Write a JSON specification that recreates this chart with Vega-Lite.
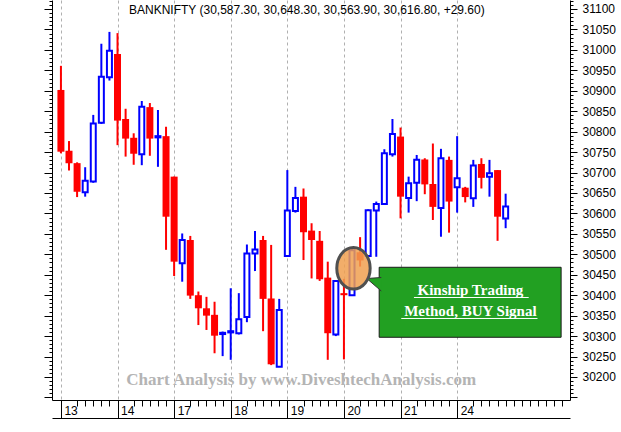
{
  "$schema": "https://vega.github.io/schema/vega-lite/v6.json",
  "width": 518,
  "height": 400,
  "autosize": {"type": "none"},
  "padding": {"left": 52, "top": 0, "right": 51, "bottom": 32},
  "background": "white",
  "config": {"view": {"stroke": null}, "font": "Liberation Sans"},
  "title": {
    "text": "BANKNIFTY (30,587.30, 30,648.30, 30,563.90, 30,616.80, +29.60)",
    "anchor": "start", "frame": "group", "orient": "top", "offset": -15, "dx": 77, "dy": 16,
    "font": "Liberation Sans", "fontSize": 12, "fontWeight": "normal", "color": "#000000", "baseline": "alphabetic"
  },
  "datasets": {
    "candles": [
      {"i":0,"day":"13","open":30902,"high":30961,"low":30747,"close":30751},
      {"i":1,"day":"13","open":30753,"high":30777,"low":30705,"close":30723},
      {"i":2,"day":"13","open":30723,"high":30725,"low":30640,"close":30653},
      {"i":3,"day":"13","open":30652,"high":30713,"low":30641,"close":30680},
      {"i":4,"day":"13","open":30678,"high":30841,"low":30675,"close":30820},
      {"i":5,"day":"13","open":30822,"high":31015,"low":30819,"close":30934},
      {"i":6,"day":"13","open":30933,"high":31044,"low":30925,"close":30998},
      {"i":7,"day":"14","open":30990,"high":31041,"low":30767,"close":30827},
      {"i":8,"day":"14","open":30831,"high":30856,"low":30739,"close":30783},
      {"i":9,"day":"14","open":30785,"high":30796,"low":30719,"close":30746},
      {"i":10,"day":"14","open":30745,"high":30875,"low":30718,"close":30861},
      {"i":11,"day":"14","open":30860,"high":30870,"low":30741,"close":30783},
      {"i":12,"day":"14","open":30786,"high":30853,"low":30714,"close":30789},
      {"i":13,"day":"14","open":30789,"high":30812,"low":30511,"close":30592},
      {"i":14,"day":"17","open":30690,"high":30690,"low":30447,"close":30482},
      {"i":15,"day":"17","open":30478,"high":30551,"low":30433,"close":30535},
      {"i":16,"day":"17","open":30535,"high":30545,"low":30391,"close":30399},
      {"i":17,"day":"17","open":30400,"high":30409,"low":30327,"close":30368},
      {"i":18,"day":"17","open":30368,"high":30396,"low":30315,"close":30350},
      {"i":19,"day":"17","open":30352,"high":30384,"low":30258,"close":30301},
      {"i":20,"day":"17","open":30305,"high":30311,"low":30251,"close":30308},
      {"i":21,"day":"18","open":30309,"high":30417,"low":30242,"close":30312},
      {"i":22,"day":"18","open":30307,"high":30405,"low":30304,"close":30341},
      {"i":23,"day":"18","open":30347,"high":30524,"low":30334,"close":30502},
      {"i":24,"day":"18","open":30502,"high":30557,"low":30459,"close":30512},
      {"i":25,"day":"18","open":30535,"high":30545,"low":30312,"close":30391},
      {"i":26,"day":"18","open":30392,"high":30523,"low":30229,"close":30231},
      {"i":27,"day":"18","open":30225,"high":30391,"low":30225,"close":30364},
      {"i":28,"day":"19","open":30496,"high":30706,"low":30495,"close":30607},
      {"i":29,"day":"19","open":30606,"high":30665,"low":30602,"close":30638},
      {"i":30,"day":"19","open":30641,"high":30661,"low":30486,"close":30554},
      {"i":31,"day":"19","open":30558,"high":30576,"low":30441,"close":30535},
      {"i":32,"day":"19","open":30533,"high":30557,"low":30435,"close":30439},
      {"i":33,"day":"19","open":30443,"high":30482,"low":30242,"close":30307},
      {"i":34,"day":"19","open":30304,"high":30437,"low":30300,"close":30435},
      {"i":35,"day":"20","open":30405,"high":30440,"low":30243,"close":30400},
      {"i":36,"day":"20","open":30400,"high":30515,"low":30398,"close":30510},
      {"i":37,"day":"20","open":30505,"high":30542,"low":30470,"close":30485},
      {"i":38,"day":"20","open":30496,"high":30610,"low":30494,"close":30608},
      {"i":39,"day":"20","open":30607,"high":30629,"low":30494,"close":30623},
      {"i":40,"day":"20","open":30623,"high":30757,"low":30621,"close":30747},
      {"i":41,"day":"20","open":30745,"high":30831,"low":30739,"close":30794},
      {"i":42,"day":"21","open":30788,"high":30810,"low":30588,"close":30641},
      {"i":43,"day":"21","open":30638,"high":30690,"low":30602,"close":30674},
      {"i":44,"day":"21","open":30675,"high":30743,"low":30630,"close":30731},
      {"i":45,"day":"21","open":30732,"high":30735,"low":30647,"close":30671},
      {"i":46,"day":"21","open":30672,"high":30771,"low":30584,"close":30616},
      {"i":47,"day":"21","open":30613,"high":30758,"low":30543,"close":30735},
      {"i":48,"day":"21","open":30731,"high":30739,"low":30553,"close":30629},
      {"i":49,"day":"24","open":30664,"high":30789,"low":30602,"close":30686},
      {"i":50,"day":"24","open":30663,"high":30665,"low":30627,"close":30640},
      {"i":51,"day":"24","open":30637,"high":30731,"low":30616,"close":30717},
      {"i":52,"day":"24","open":30721,"high":30735,"low":30661,"close":30687},
      {"i":53,"day":"24","open":30690,"high":30731,"low":30641,"close":30698},
      {"i":54,"day":"24","open":30706,"high":30706,"low":30533,"close":30592},
      {"i":55,"day":"24","open":30587.3,"high":30648.3,"low":30563.9,"close":30616.8}
    ],
    "watermark": [{"x": 29.71, "y": 30180.4, "text": "Chart Analysis by www.DiveshtechAnalysis.com"}],
    "box": [{"x1": 39.36, "x2": 61.86, "y1": 30468.3, "y2": 30297.1}],
    "boxtext": [
      {"x": 50.64, "y": 30400.5, "text": "Kinship Trading "},
      {"x": 50.64, "y": 30349.2, "text": "Method, BUY Signal"}
    ],
    "underline": [
      {"x1": 43.66, "x2": 57.85, "y": 30394.4},
      {"x1": 42.09, "x2": 58.94, "y": 30343.1}
    ],
    "circle": [{"x": 36.18, "y": 30465.8}],
    "wedge": [{"x": 38.69, "y": 30427.4}]
  },
  "resolve": {"axis": {"x": "independent", "y": "independent"}},
  "layer": [
    {
      "data": {"name": "watermark"},
      "mark": {"type": "text", "font": "Liberation Serif", "fontWeight": "bold", "fontSize": 17, "color": "#b4b4b4", "align": "center", "baseline": "alphabetic"},
      "encoding": {
        "x": {"field": "x", "type": "quantitative", "scale": {"domain": [-0.485, 62.34], "nice": false, "zero": false}, "axis": null},
        "y": {"field": "y", "type": "quantitative", "scale": {"domain": [30143.7, 31122], "nice": false, "zero": false}, "axis": null},
        "text": {"field": "text"}
      }
    },
    {
      "data": {"name": "candles"},
      "mark": {"type": "rule", "strokeWidth": 2},
      "encoding": {
        "x": {"field": "i", "type": "quantitative", "scale": {"domain": [-0.485, 62.34], "nice": false, "zero": false},
          "axis": {
            "orient": "bottom", "title": null,
            "values": [0,1,2,3,4,5,6,7,8,9,10,11,12,13,14,15,16,17,18,19,20,21,22,23,24,25,26,27,28,29,30,31,32,33,34,35,36,37,38,39,40,41,42,43,44,45,46,47,48,49,50,51,52,53,54,55,56,57,58,59,60,61,62],
            "domain": true, "domainColor": "#000000", "domainWidth": 1,
            "ticks": true, "tickColor": "#000000", "tickWidth": 1,
            "tickSize": {"condition": {"test": "datum.value % 7 === 0 && datum.value <= 49", "value": 18}, "value": 6},
            "tickOpacity": {"condition": {"test": "datum.value % 7 === 1 && datum.value <= 50", "value": 0}, "value": 1},
            "grid": true, "gridColor": "#b0b0b0", "gridDash": [3, 3], "gridWidth": 1,
            "gridOpacity": {"condition": {"test": "datum.value % 7 === 0 && datum.value <= 49", "value": 1}, "value": 0},
            "labelExpr": "datum.value % 7 === 0 && datum.value <= 49 ? ['13','14','17','18','19','20','21','24'][datum.value / 7] : ''",
            "labelAlign": "left", "labelBaseline": "top", "labelPadding": -13, "labelOffset": 3,
            "labelFont": "Liberation Sans", "labelFontSize": 12, "labelColor": "#000000",
            "labelFlush": false, "labelOverlap": false, "labelBound": false
          }
        },
        "y": {"field": "low", "type": "quantitative", "scale": {"domain": [30143.7, 31122], "nice": false, "zero": false},
          "axis": {
            "orient": "right", "title": null,
            "values": [30150,30160,30170,30180,30190,30200,30210,30220,30230,30240,30250,30260,30270,30280,30290,30300,30310,30320,30330,30340,30350,30360,30370,30380,30390,30400,30410,30420,30430,30440,30450,30460,30470,30480,30490,30500,30510,30520,30530,30540,30550,30560,30570,30580,30590,30600,30610,30620,30630,30640,30650,30660,30670,30680,30690,30700,30710,30720,30730,30740,30750,30760,30770,30780,30790,30800,30810,30820,30830,30840,30850,30860,30870,30880,30890,30900,30910,30920,30930,30940,30950,30960,30970,30980,30990,31000,31010,31020,31030,31040,31050,31060,31070,31080,31090,31100,31110,31120],
            "domain": true, "domainColor": "#000000", "domainWidth": 1,
            "ticks": true, "tickColor": "#000000", "tickWidth": 1,
            "tickSize": {"condition": {"test": "datum.value % 50 === 0", "value": 7}, "value": 3},
            "grid": false,
            "labelExpr": "datum.value % 50 === 0 && datum.value >= 30200 ? '' + datum.value : ''",
            "labelPadding": 5, "labelFont": "Liberation Sans", "labelFontSize": 12, "labelColor": "#000000",
            "labelOverlap": false, "labelFlush": false, "labelBound": false
          }
        },
        "y2": {"field": "high"},
        "color": {"condition": {"test": "datum.close < datum.open", "value": "#ff0000"}, "value": "#0000ff"}
      }
    },
    {
      "data": {"name": "candles"},
      "transform": [{"filter": "datum.close < datum.open"}],
      "mark": {"type": "bar", "width": 7, "color": "#ff0000"},
      "encoding": {
        "x": {"field": "i", "type": "quantitative", "scale": {"domain": [-0.485, 62.34], "nice": false, "zero": false},
          "axis": {"orient": "bottom", "offset": 18, "title": null, "domain": true, "domainColor": "#000000", "ticks": false, "labels": false, "grid": false}},
        "y": {"field": "open", "type": "quantitative", "scale": {"domain": [30143.7, 31122], "nice": false, "zero": false},
          "axis": {
            "orient": "left", "title": null,
            "values": [30150,30160,30170,30180,30190,30200,30210,30220,30230,30240,30250,30260,30270,30280,30290,30300,30310,30320,30330,30340,30350,30360,30370,30380,30390,30400,30410,30420,30430,30440,30450,30460,30470,30480,30490,30500,30510,30520,30530,30540,30550,30560,30570,30580,30590,30600,30610,30620,30630,30640,30650,30660,30670,30680,30690,30700,30710,30720,30730,30740,30750,30760,30770,30780,30790,30800,30810,30820,30830,30840,30850,30860,30870,30880,30890,30900,30910,30920,30930,30940,30950,30960,30970,30980,30990,31000,31010,31020,31030,31040,31050,31060,31070,31080,31090,31100,31110,31120],
            "domain": true, "domainColor": "#000000", "ticks": true, "tickColor": "#000000",
            "tickSize": {"condition": {"test": "datum.value % 50 === 0", "value": 8}, "value": 3},
            "labels": false, "grid": false
          }
        },
        "y2": {"field": "close"}
      }
    },
    {
      "data": {"name": "candles"},
      "transform": [{"filter": "datum.close >= datum.open"}],
      "mark": {"type": "bar", "width": 5, "fill": "#ffffff", "stroke": "#0000ff", "strokeWidth": 2},
      "encoding": {
        "x": {"field": "i", "type": "quantitative", "scale": {"domain": [-0.485, 62.34], "nice": false, "zero": false}, "axis": null},
        "y": {"field": "open", "type": "quantitative", "scale": {"domain": [30143.7, 31122], "nice": false, "zero": false}, "axis": null},
        "y2": {"field": "close"}
      }
    },
    {
      "data": {"name": "box"},
      "mark": {"type": "rect", "fill": "#22a022", "stroke": "#1a1a1a", "strokeWidth": 1},
      "encoding": {
        "x": {"field": "x1", "type": "quantitative", "scale": {"domain": [-0.485, 62.34], "nice": false, "zero": false}, "axis": null},
        "x2": {"field": "x2"},
        "y": {"field": "y1", "type": "quantitative", "scale": {"domain": [30143.7, 31122], "nice": false, "zero": false}, "axis": null},
        "y2": {"field": "y2"}
      }
    },
    {
      "data": {"name": "wedge"},
      "mark": {"type": "point", "shape": "M 0.75 -0.65 L -0.7 -0.55 L 0.75 0.7", "size": 400, "filled": true, "fill": "#22a022", "fillOpacity": 1, "stroke": "#333333", "strokeWidth": 1, "opacity": 1},
      "encoding": {
        "x": {"field": "x", "type": "quantitative", "scale": {"domain": [-0.485, 62.34], "nice": false, "zero": false}, "axis": null},
        "y": {"field": "y", "type": "quantitative", "scale": {"domain": [30143.7, 31122], "nice": false, "zero": false}, "axis": null}
      }
    },
    {
      "data": {"name": "circle"},
      "mark": {"type": "point", "shape": "M -0.806 0 A 0.806 1 0 1 1 0.806 0 A 0.806 1 0 1 1 -0.806 0 Z", "size": 1714, "filled": true, "fill": "#f0a050", "fillOpacity": 0.85, "stroke": "#505050", "strokeWidth": 3, "opacity": 1},
      "encoding": {
        "x": {"field": "x", "type": "quantitative", "scale": {"domain": [-0.485, 62.34], "nice": false, "zero": false}, "axis": null},
        "y": {"field": "y", "type": "quantitative", "scale": {"domain": [30143.7, 31122], "nice": false, "zero": false}, "axis": null}
      }
    },
    {
      "data": {"name": "boxtext"},
      "mark": {"type": "text", "font": "Liberation Serif", "fontWeight": "bold", "fontSize": 15, "color": "#ffffff", "align": "center", "baseline": "alphabetic"},
      "encoding": {
        "x": {"field": "x", "type": "quantitative", "scale": {"domain": [-0.485, 62.34], "nice": false, "zero": false}, "axis": null},
        "y": {"field": "y", "type": "quantitative", "scale": {"domain": [30143.7, 31122], "nice": false, "zero": false}, "axis": null},
        "text": {"field": "text"}
      }
    },
    {
      "data": {"name": "underline"},
      "mark": {"type": "rule", "color": "#ffffff", "strokeWidth": 1},
      "encoding": {
        "x": {"field": "x1", "type": "quantitative", "scale": {"domain": [-0.485, 62.34], "nice": false, "zero": false}, "axis": null},
        "x2": {"field": "x2"},
        "y": {"field": "y", "type": "quantitative", "scale": {"domain": [30143.7, 31122], "nice": false, "zero": false}, "axis": null}
      }
    }
  ]
}
